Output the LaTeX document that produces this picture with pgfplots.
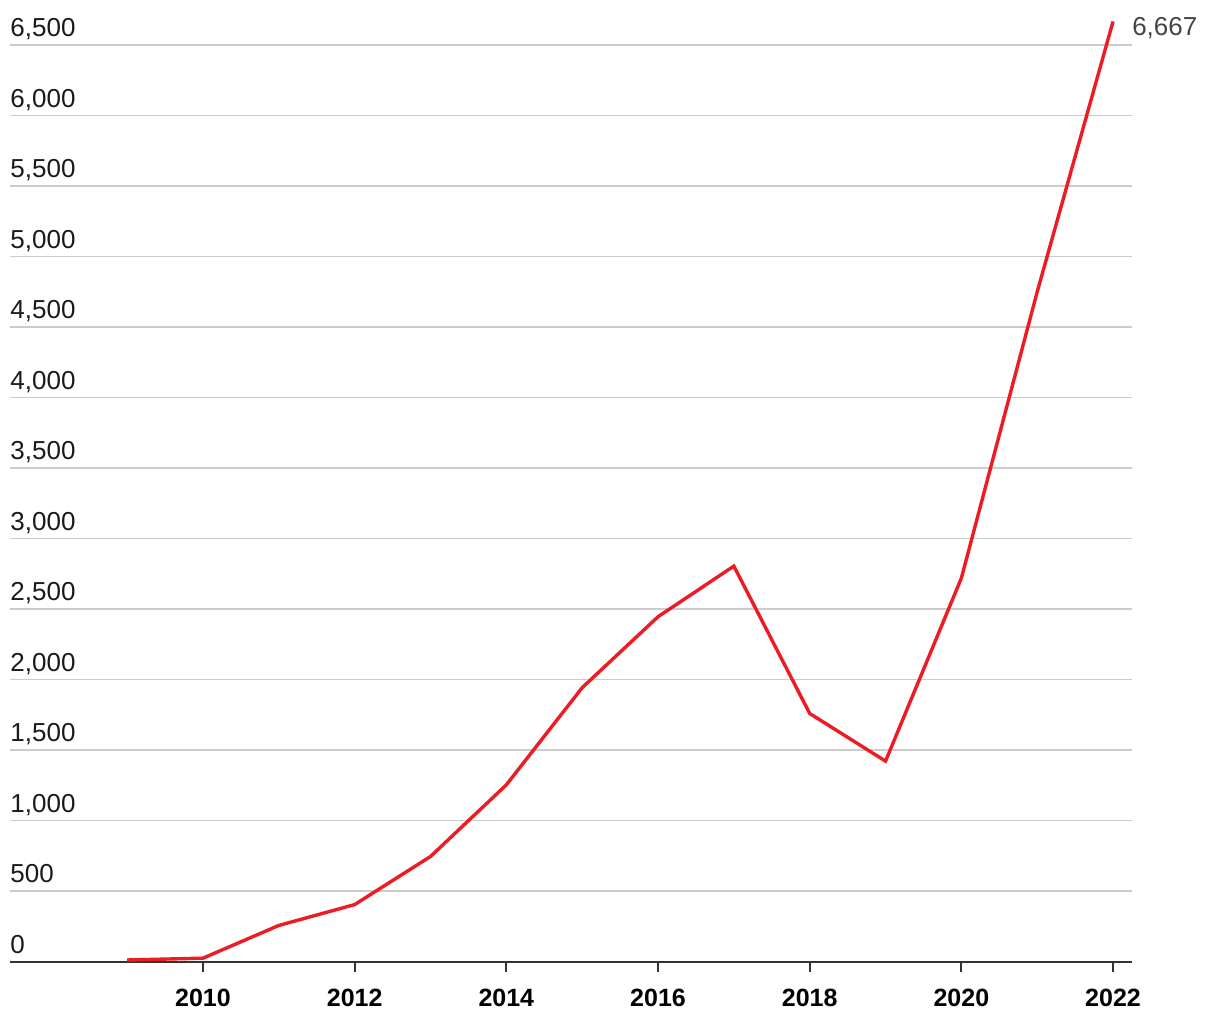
\documentclass[border=0pt]{standalone}
\usepackage{pgfplots}
\pgfplotsset{compat=1.18}
\usepackage{fontspec}
\setmainfont{Liberation Sans}
\definecolor{redline}{HTML}{ED1C24}
\definecolor{gridc}{HTML}{CCCCCC}
\definecolor{axc}{HTML}{333333}
\definecolor{labc}{HTML}{1A1A1A}
\definecolor{annc}{HTML}{444444}
\pgfplotstableread{
year value
2009 12
2010 25
2011 257
2012 405
2013 746
2014 1254
2015 1943
2016 2446
2017 2805
2018 1760
2019 1422
2020 2720
2021 4750
2022 6667
}\datatable
\begin{document}
\begin{tikzpicture}
\begin{axis}[
  at={(0,0)}, anchor=south west,
  scale only axis, width=561pt, height=458.35pt,
  xmin=2007.455, xmax=2022.25, ymin=0, ymax=6500,
  clip=false,
  axis x line*=bottom, axis y line*=left,
  x axis line style={-, draw=axc, line width=1pt},
  y axis line style={draw=none},
  tick align=outside,
  major tick length=5pt,
  xtick={2010,2012,2014,2016,2018,2020,2022},
  xticklabels={2010,2012,2014,2016,2018,2020,2022},
  xtick style={draw=axc, line width=1pt},
  xticklabel style={font=\fontsize{12.5}{15}\selectfont\bfseries, text=black, anchor=north, inner sep=0pt, yshift=-8.7pt},
  ytick={0,500,...,6500},
  yticklabels={0,500,{1,000},{1,500},{2,000},{2,500},{3,000},{3,500},{4,000},{4,500},{5,000},{5,500},{6,000},{6,500}},
  ytick style={draw=none},
  yticklabel style={font=\fontsize{13}{15}\selectfont, text=labc, anchor=base west, inner sep=0pt, xshift=5pt, yshift=4.15pt},
  ymajorgrids,
  major grid style={draw=gridc, line width=0.75pt},
]
\addplot[draw=redline, line width=1.7pt, mark=none] table[x=year, y=value] {\datatable};
\node[anchor=base west, inner sep=0pt, text=annc, font=\fontsize{13}{15}\selectfont] at (axis cs:2022,6667) [xshift=9.4pt, yshift=-7.15pt] {6,667};
\end{axis}
\pgfresetboundingbox
\path[use as bounding box] (-5pt,-29.15pt) rectangle (605pt,480.85pt);
\end{tikzpicture}
\end{document}
